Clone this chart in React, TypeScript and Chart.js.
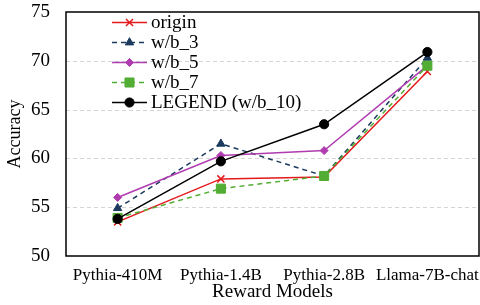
import React, { useEffect, useRef } from "react";
import { Chart, registerables } from "chart.js";
import { drawPoint } from "chart.js/helpers";

Chart.register(...registerables);

const categories = ["Pythia-410M", "Pythia-1.4B", "Pythia-2.8B", "Llama-7B-chat"];
const seriesNames = ["origin", "w/b_3", "w/b_5", "w/b_7", "LEGEND (w/b_10)"];
const originVals = [53.5, 57.9, 58.1, 68.9];
const wb3Vals = [54.9, 61.5, 58.2, 70.3];
const wb5Vals = [56.0, 60.3, 60.8, 69.5];
const wb7Vals = [53.9, 56.9, 58.2, 69.5];
const legendVals = [53.8, 59.7, 63.5, 70.9];
const yTicks = [50, 55, 60, 65, 70, 75];
const gridVals = [55, 60, 65, 70];

const SERIF = '"Liberation Serif", "DejaVu Serif", serif';

const boxPlugin = {
  id: "boxPlugin",
  beforeDatasetsDraw(chart: any) {
    const { ctx, chartArea } = chart;
    const ys = chart.scales.y;
    ctx.save();
    ctx.strokeStyle = "#d4d4d4";
    ctx.lineWidth = 1;
    ctx.setLineDash([4, 3]);
    gridVals.forEach((v) => {
      const y = Math.round(ys.getPixelForValue(v)) + 0.5;
      ctx.beginPath();
      ctx.moveTo(chartArea.left, y);
      ctx.lineTo(chartArea.right, y);
      ctx.stroke();
    });
    ctx.setLineDash([]);
    ctx.strokeStyle = "#000";
    ctx.lineWidth = 1.5;
    ctx.strokeRect(chartArea.left, chartArea.top, chartArea.right - chartArea.left, chartArea.bottom - chartArea.top);
    ctx.restore();
  },
};

const legendPlugin = {
  id: "insideLegend",
  afterDraw(chart: any) {
    const { ctx, chartArea } = chart;
    chart.data.datasets.forEach((ds: any, i: number) => {
      const y = chartArea.top + 10.5 + i * 20;
      const x0 = chartArea.left + 46;
      const x1 = chartArea.left + 81;
      ctx.save();
      ctx.strokeStyle = ds.borderColor;
      ctx.lineWidth = ds.borderWidth;
      ctx.setLineDash(ds.borderDash || []);
      ctx.beginPath();
      ctx.moveTo(x0, y);
      ctx.lineTo(x1, y);
      ctx.stroke();
      ctx.setLineDash([]);
      ctx.fillStyle = ds.pointBackgroundColor;
      ctx.strokeStyle = ds.pointBorderColor;
      ctx.lineWidth = ds.pointBorderWidth;
      drawPoint(ctx, { pointStyle: ds.pointStyle, radius: ds.pointRadius, borderWidth: ds.pointBorderWidth, rotation: 0 } as any, (x0 + x1) / 2, y);
      ctx.fillStyle = "#000";
      ctx.font = `19px ${SERIF}`;
      ctx.textBaseline = "middle";
      ctx.textAlign = "left";
      ctx.fillText(ds.label, x1 + 4, y + 1);
      ctx.restore();
    });
  },
};

export default function App() {
  const ref = useRef<HTMLCanvasElement | null>(null);
  useEffect(() => {
    if (!ref.current) return;
    const mk = (i: number, data: number[], color: string, style: string, radius: number, dash: number[]) => ({
      label: seriesNames[i],
      data,
      borderColor: color,
      backgroundColor: color,
      pointBackgroundColor: color,
      pointBorderColor: color,
      pointBorderWidth: style === "crossRot" ? 1.5 : 1,
      borderWidth: 1.5,
      borderDash: dash,
      pointStyle: style,
      pointRadius: radius,
      tension: 0,
      order: 5 - i,
      clip: false as any,
    });
    const chart = new Chart(ref.current, {
      type: "line",
      data: {
        labels: categories,
        datasets: [
          mk(0, originVals, "#e3191c", "crossRot", 5, []),
          mk(1, wb3Vals, "#1b3a5e", "triangle", 4.8, [5, 4]),
          mk(2, wb5Vals, "#b03cb0", "rectRot", 4, []),
          mk(3, wb7Vals, "#52ad34", "rect", 6.4, [5, 4]),
          mk(4, legendVals, "#000000", "circle", 4.6, []),
        ] as any,
      },
      options: {
        animation: false,
        responsive: false,
        maintainAspectRatio: false,
        layout: { autoPadding: false, padding: { left: 0, right: 1, top: 12, bottom: 0 } },
        plugins: { legend: { display: false }, tooltip: { enabled: false } },
        scales: {
          x: {
            offset: true,
            grid: { display: false, drawTicks: false },
            border: { display: false },
            ticks: { color: "#000", font: { family: SERIF, size: 17 }, padding: 9, maxRotation: 0, autoSkip: false },
            title: { display: true, text: "Reward Models", color: "#000", font: { family: SERIF, size: 19 }, padding: { top: 0, bottom: 2 } },
            afterFit: (s: any) => {
              s.height = 49;
              s.paddingLeft = 0;
              s.paddingRight = 0;
            },
          },
          y: {
            min: 50,
            max: 75,
            afterBuildTicks: (s: any) => { s.ticks = yTicks.map((v) => ({ value: v })); },
            grid: { display: false, drawTicks: false },
            border: { display: false },
            ticks: { color: "#000", font: { family: SERIF, size: 19 }, padding: 16 },
            title: { display: true, text: "Accuracy", color: "#000", font: { family: SERIF, size: 18 }, padding: { top: 4, bottom: 0 } },
            afterFit: (s: any) => {
              s.width = 66;
              s.paddingTop = 0;
              s.paddingBottom = 0;
            },
          },
        },
      },
      plugins: [boxPlugin, legendPlugin],
    });
    return () => chart.destroy();
  }, []);
  return (
    <div style={{ position: "absolute", left: 0, top: 0, width: 480, height: 305 }}>
      <canvas ref={ref} width={480} height={305} style={{ width: 480, height: 305 }} />
    </div>
  );
}
